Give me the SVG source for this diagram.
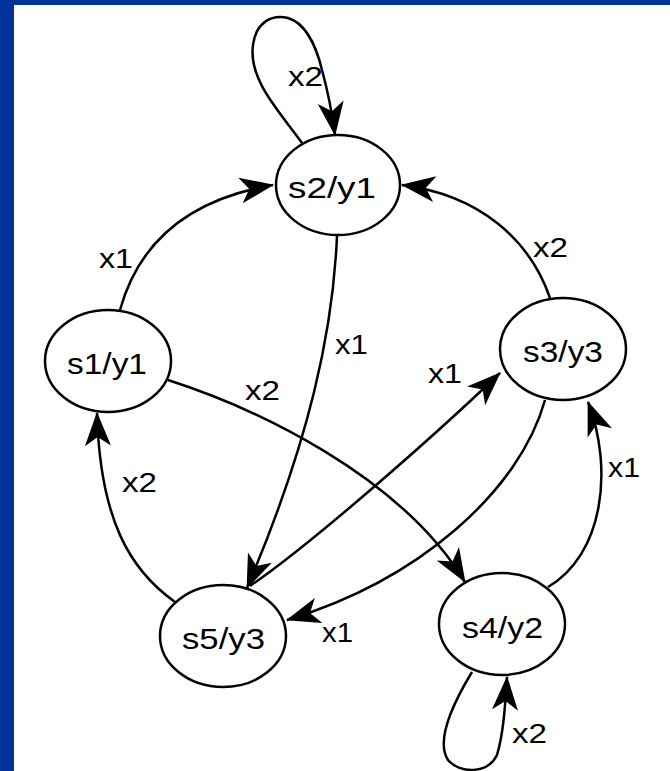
<svg xmlns="http://www.w3.org/2000/svg" width="670" height="771" viewBox="0 0 670 771">
<style>
.node ellipse{fill:#fff;stroke:#000;stroke-width:2.5}
.nt{font-family:"Liberation Sans",Arial,sans-serif;font-size:30px;fill:#000}
.lt{font-family:"Liberation Sans",Arial,sans-serif;font-size:28px;fill:#000}
#edges path{fill:none;stroke:#000;stroke-width:2.5}
</style>
<defs>
<marker id="ah" markerUnits="userSpaceOnUse" viewBox="-36 -16 38 32" refX="0" refY="0" markerWidth="38" markerHeight="32" orient="auto">
<path d="M1,0 L-33,-13 L-24,0 L-33,13 Z" fill="#000"/>
</marker>
</defs>
<rect x="0" y="0" width="670" height="771" fill="#fff"/>
<rect x="0" y="0" width="670" height="5" fill="#003399"/>
<rect x="0" y="0" width="14" height="771" fill="#003399"/>
<g id="edges">
<path d="M302,143 C280,112 248,80 253,45 C256,22 272,14 288,18 C305,23 316,45 322,70 C328,92 332,112 335,135" marker-end="url(#ah)"/>
<path d="M120,310 C138,245 185,200 273,185" marker-end="url(#ah)"/>
<path d="M550,298 C530,240 480,195 402,185" marker-end="url(#ah)"/>
<path d="M337,236 C333,330 310,440 247,588" marker-end="url(#ah)"/>
<path d="M168,380 C255,408 400,475 465,582" marker-end="url(#ah)"/>
<path d="M175,602 C130,570 100,520 97,413" marker-end="url(#ah)"/>
<path d="M250,586 C310,545 430,440 500,373" marker-end="url(#ah)"/>
<path d="M545,400 C520,490 420,580 287,620" marker-end="url(#ah)"/>
<path d="M548,587 C603,555 614,470 588,402" marker-end="url(#ah)"/>
<path d="M472,672 C455,700 435,740 448,760 C460,774 488,774 497,755 C503,735 505,710 507,677" marker-end="url(#ah)"/>
</g>
<g id="labels">
<text class="lt" x="288" y="86" textLength="35" lengthAdjust="spacingAndGlyphs">x2</text>
<text class="lt" x="99" y="268" textLength="34" lengthAdjust="spacingAndGlyphs">x1</text>
<text class="lt" x="533" y="257" textLength="35" lengthAdjust="spacingAndGlyphs">x2</text>
<text class="lt" x="335" y="354" textLength="33" lengthAdjust="spacingAndGlyphs">x1</text>
<text class="lt" x="245" y="400" textLength="35" lengthAdjust="spacingAndGlyphs">x2</text>
<text class="lt" x="428" y="383" textLength="34" lengthAdjust="spacingAndGlyphs">x1</text>
<text class="lt" x="122" y="492" textLength="35" lengthAdjust="spacingAndGlyphs">x2</text>
<text class="lt" x="608" y="477" textLength="32" lengthAdjust="spacingAndGlyphs">x1</text>
<text class="lt" x="322" y="642" textLength="31" lengthAdjust="spacingAndGlyphs">x1</text>
<text class="lt" x="512" y="743" textLength="35" lengthAdjust="spacingAndGlyphs">x2</text>
</g>
<g id="s2" class="node"><ellipse cx="338" cy="185" rx="62" ry="50"/><text class="nt" x="288" y="198" textLength="88" lengthAdjust="spacingAndGlyphs">s2/y1</text></g>
<g id="s1" class="node"><ellipse cx="108" cy="361" rx="63" ry="51"/><text class="nt" x="67" y="374" textLength="80" lengthAdjust="spacingAndGlyphs">s1/y1</text></g>
<g id="s3" class="node"><ellipse cx="563" cy="349" rx="63" ry="51"/><text class="nt" x="523" y="362" textLength="80" lengthAdjust="spacingAndGlyphs">s3/y3</text></g>
<g id="s5" class="node"><ellipse cx="223" cy="636" rx="63" ry="51"/><text class="nt" x="182" y="649" textLength="83" lengthAdjust="spacingAndGlyphs">s5/y3</text></g>
<g id="s4" class="node"><ellipse cx="502" cy="624" rx="63" ry="51"/><text class="nt" x="462" y="638" textLength="81" lengthAdjust="spacingAndGlyphs">s4/y2</text></g>
</svg>
